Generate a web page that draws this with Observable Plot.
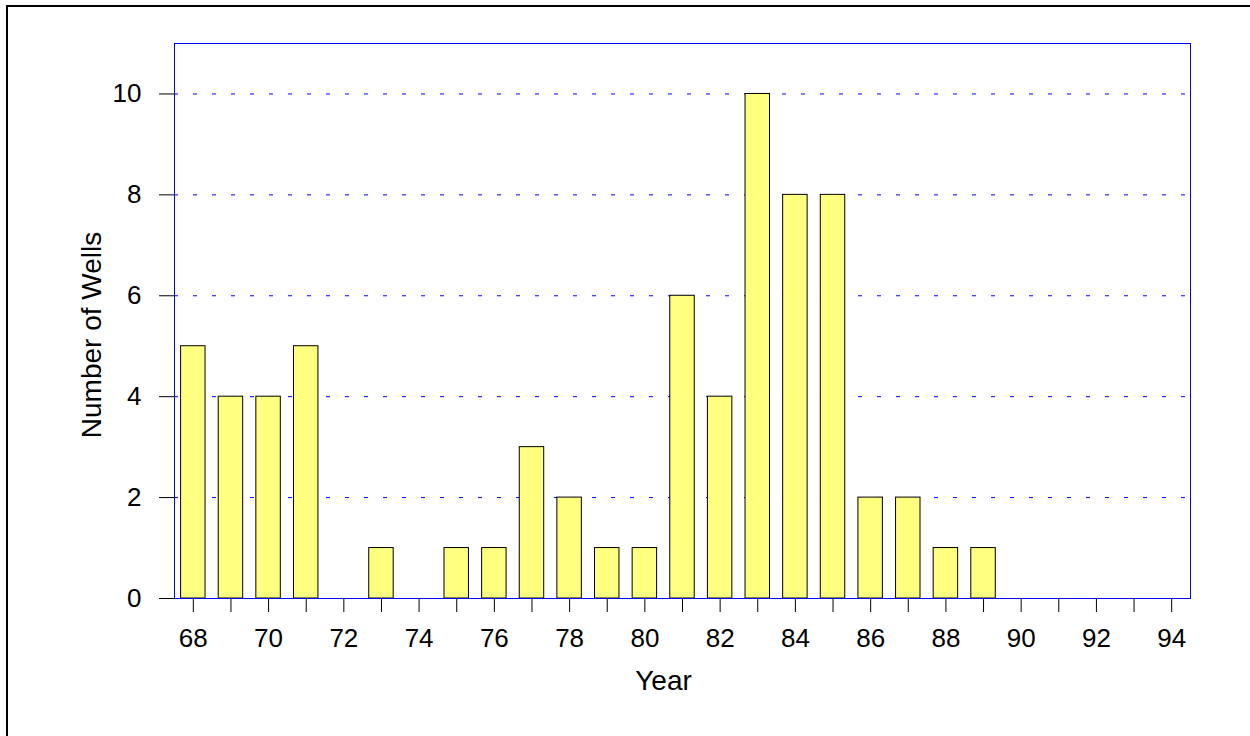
<!DOCTYPE html>
<html>
<head>
<meta charset="utf-8">
<script src="https://cdn.jsdelivr.net/npm/d3@7"></script>
<script src="https://cdn.jsdelivr.net/npm/@observablehq/plot@0.6"></script>
<style>
  html, body { margin: 0; padding: 0; background: #fff; overflow: hidden; }
  #wrap { position: relative; width: 1250px; height: 736px; }
  #border { position: absolute; left: 6px; top: 5px; right: -10px; bottom: -10px;
            border-left: 2px solid #000; border-top: 2px solid #000; pointer-events: none; }
  #chart { position: absolute; left: 0; top: 0; }
</style>
</head>
<body>
<div id="wrap"><div id="chart"></div><div id="border"></div></div>
<script>
const years = ["68","69","70","71","72","73","74","75","76","77","78","79","80",
               "81","82","83","84","85","86","87","88","89","90","91","92","93","94"];
const wells = [5,4,4,5,0,1,0,1,1,3,2,1,1,6,4,10,8,8,2,2,1,1,0,0,0,0,0];
const yTicks = [0,2,4,6,8,10];
const gridTicks = [2,4,6,8,10];
const xTitle = "Year";
const yTitle = "Number of Wells";

const data = years.map((y, i) => ({year: y, n: wells[i]}));

const plot = Plot.plot({
  width: 1250,
  height: 736,
  marginLeft: 174,
  marginRight: 60,
  marginTop: 43,
  marginBottom: 138,
  style: {fontFamily: "'Liberation Sans', Arial, sans-serif", fontSize: "26px", color: "#000", background: "#fff", overflow: "visible"},
  x: {type: "band", domain: years, paddingInner: 0.35, paddingOuter: 0.175, round: false},
  y: {domain: [0, 11]},
  marks: [
    Plot.gridY(gridTicks, {stroke: "#0000ff", strokeOpacity: 1, strokeWidth: 1, strokeDasharray: "4,15"}),
    Plot.barY(data, {x: "year", y: "n", fill: "#ffff80", stroke: "#000", strokeWidth: 1}),
    Plot.frame({stroke: "#0000ff", strokeWidth: 1}),
    Plot.axisY(yTicks, {tickSize: 15, tickPadding: 18, label: null, fontSize: 26, tickFormat: d => String(d)}),
    Plot.axisX({tickSize: 14, tickPadding: 16, label: null, fontSize: 26,
                tickFormat: d => (+d % 2 === 0 ? d : "")}),
    Plot.text([xTitle], {text: d => d, frameAnchor: "bottom", textAnchor: "middle", dx: -19, dy: 91, fontSize: 28}),
    Plot.text([yTitle], {text: d => d, frameAnchor: "left", textAnchor: "middle", dx: -82, dy: 14, rotate: -90, fontSize: 28})
  ]
});
document.getElementById("chart").appendChild(plot);
</script>
</body>
</html>
